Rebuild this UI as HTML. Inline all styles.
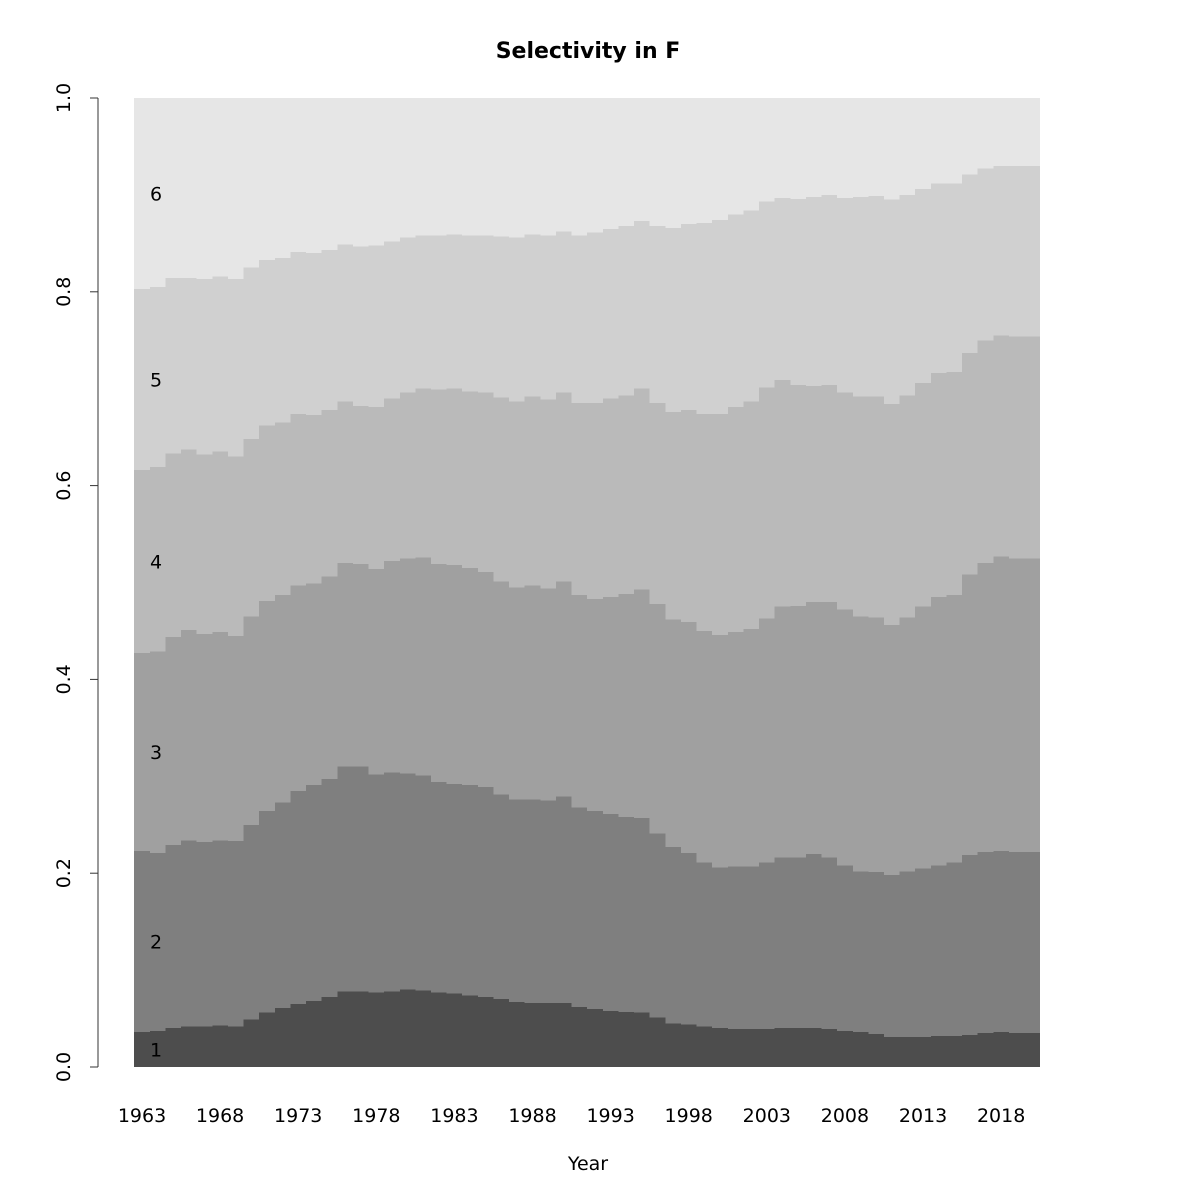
<!DOCTYPE html>
<html><head><meta charset="utf-8"><style>
body{margin:0;background:#fff}
svg{display:block;font-family:"DejaVu Sans","Liberation Sans",sans-serif}
</style></head><body>
<svg id="chart" width="1200" height="1200" viewBox="0 0 1200 1200" xmlns="http://www.w3.org/2000/svg">
<rect width="1200" height="1200" fill="#fff"/>
<text x="588" y="58" text-anchor="middle" font-size="22" font-weight="bold">Selectivity in F</text>
<text x="588" y="1170" text-anchor="middle" font-size="19">Year</text>
<g id="bands" shape-rendering="crispEdges"></g>
<g id="labels"></g>
<g id="yaxis"></g>
<g id="xaxis"></g>
</svg>
<script>
const years = [];
for (let y = 1963; y <= 2020; y++) years.push(y);
const cum1 = [0.036,0.037,0.040,0.042,0.042,0.043,0.042,0.049,0.056,0.061,0.065,0.068,0.072,0.078,0.078,0.077,0.078,0.080,0.079,0.077,0.076,0.074,0.072,0.070,0.067,0.066,0.066,0.066,0.062,0.060,0.058,0.057,0.056,0.051,0.045,0.044,0.042,0.040,0.039,0.039,0.039,0.040,0.040,0.040,0.039,0.037,0.036,0.034,0.031,0.031,0.031,0.032,0.032,0.033,0.035,0.036,0.035,0.035];
const cum2 = [0.223,0.221,0.229,0.234,0.232,0.234,0.233,0.250,0.264,0.273,0.285,0.291,0.297,0.310,0.310,0.302,0.304,0.303,0.301,0.294,0.292,0.291,0.289,0.281,0.276,0.276,0.275,0.279,0.268,0.264,0.261,0.258,0.257,0.241,0.227,0.221,0.211,0.206,0.207,0.207,0.211,0.216,0.216,0.220,0.216,0.208,0.202,0.201,0.198,0.202,0.205,0.208,0.211,0.219,0.222,0.223,0.222,0.222];
const cum3 = [0.427,0.429,0.444,0.451,0.447,0.449,0.445,0.465,0.481,0.487,0.497,0.499,0.506,0.520,0.519,0.514,0.522,0.525,0.526,0.519,0.518,0.515,0.511,0.501,0.495,0.497,0.494,0.501,0.487,0.483,0.485,0.488,0.493,0.478,0.462,0.459,0.450,0.446,0.449,0.452,0.463,0.475,0.476,0.480,0.480,0.472,0.465,0.464,0.456,0.464,0.475,0.485,0.487,0.508,0.520,0.527,0.525,0.525];
const cum4 = [0.616,0.619,0.633,0.637,0.632,0.635,0.630,0.648,0.662,0.665,0.674,0.673,0.678,0.687,0.682,0.681,0.690,0.696,0.700,0.699,0.700,0.697,0.696,0.691,0.687,0.692,0.689,0.696,0.685,0.685,0.690,0.693,0.700,0.685,0.676,0.678,0.674,0.674,0.681,0.687,0.701,0.709,0.704,0.703,0.704,0.696,0.692,0.692,0.684,0.693,0.706,0.716,0.717,0.737,0.750,0.755,0.754,0.754];
const cum5 = [0.803,0.805,0.814,0.814,0.813,0.816,0.813,0.825,0.833,0.835,0.841,0.840,0.843,0.849,0.847,0.848,0.852,0.856,0.858,0.858,0.859,0.858,0.858,0.857,0.856,0.859,0.858,0.862,0.858,0.861,0.865,0.868,0.873,0.868,0.866,0.870,0.871,0.874,0.880,0.884,0.893,0.897,0.896,0.898,0.900,0.897,0.898,0.899,0.895,0.900,0.906,0.912,0.912,0.921,0.927,0.930,0.930,0.930];
const yTicks = [0, 0.2, 0.4, 0.6, 0.8, 1.0];
const yTickLabels = ["0.0","0.2","0.4","0.6","0.8","1.0"];
const xTickYears = [1963,1968,1973,1978,1983,1988,1993,1998,2003,2008,2013,2018];
const ageLabels = ["1","2","3","4","5","6"];
const colors = ["#4d4d4d","#7f7f7f","#a0a0a0","#bababa","#d0d0d0","#e6e6e6"];

const NS = "http://www.w3.org/2000/svg";
const step = 906 / years.length;
const xC = yr => 134.2 + (yr - 1963 + 0.5) * step;
const yS = v => 1067 - v * 969;
function mk(tag, attrs, parent) {
  const e = document.createElementNS(NS, tag);
  for (const k in attrs) e.setAttribute(k, attrs[k]);
  parent.appendChild(e);
  return e;
}
const zeros = years.map(() => 0), ones = years.map(() => 1);
const bounds = [zeros, cum1, cum2, cum3, cum4, cum5, ones];
const bands = document.getElementById('bands');
for (let a = 0; a < 6; a++) {
  let d = "";
  years.forEach((yr, i) => {
    const x0 = xC(yr) - step / 2, x1 = xC(yr) + step / 2;
    d += (i === 0 ? "M" : "L") + x0 + "," + yS(bounds[a + 1][i]) + "L" + x1 + "," + yS(bounds[a + 1][i]);
  });
  for (let i = years.length - 1; i >= 0; i--) {
    const x0 = xC(years[i]) - step / 2, x1 = xC(years[i]) + step / 2;
    d += "L" + x1 + "," + yS(bounds[a][i]) + "L" + x0 + "," + yS(bounds[a][i]);
  }
  d += "Z";
  const p = mk('path', {d: d, fill: colors[a]}, bands);
  
  
}
const labels = document.getElementById('labels');
for (let a = 0; a < 6; a++) {
  const mid = (bounds[a][0] + bounds[a + 1][0]) / 2;
  const t = mk('text', {x: 156, y: yS(mid) + 7, 'text-anchor': 'middle', 'font-size': 19}, labels);
  t.textContent = ageLabels[a];
  
  
}
const ya = document.getElementById('yaxis');
mk('line', {x1: 98, x2: 98, y1: yS(0), y2: yS(1), stroke: '#333', 'stroke-width': 1}, ya);
yTicks.forEach((v, i) => {
  mk('line', {x1: 90, x2: 98, y1: yS(v), y2: yS(v), stroke: '#333', 'stroke-width': 1}, ya);
  const t = mk('text', {x: 0, y: 0, 'text-anchor': 'middle', 'font-size': 19, transform: 'translate(70,' + yS(v) + ') rotate(-90)'}, ya);
  t.textContent = yTickLabels[i];
  
  
});
const xa = document.getElementById('xaxis');
xTickYears.forEach(yr => {
  const t = mk('text', {x: xC(yr), y: 1122, 'text-anchor': 'middle', 'font-size': 19}, xa);
  t.textContent = yr;
  
  
});
</script>
</body></html>
